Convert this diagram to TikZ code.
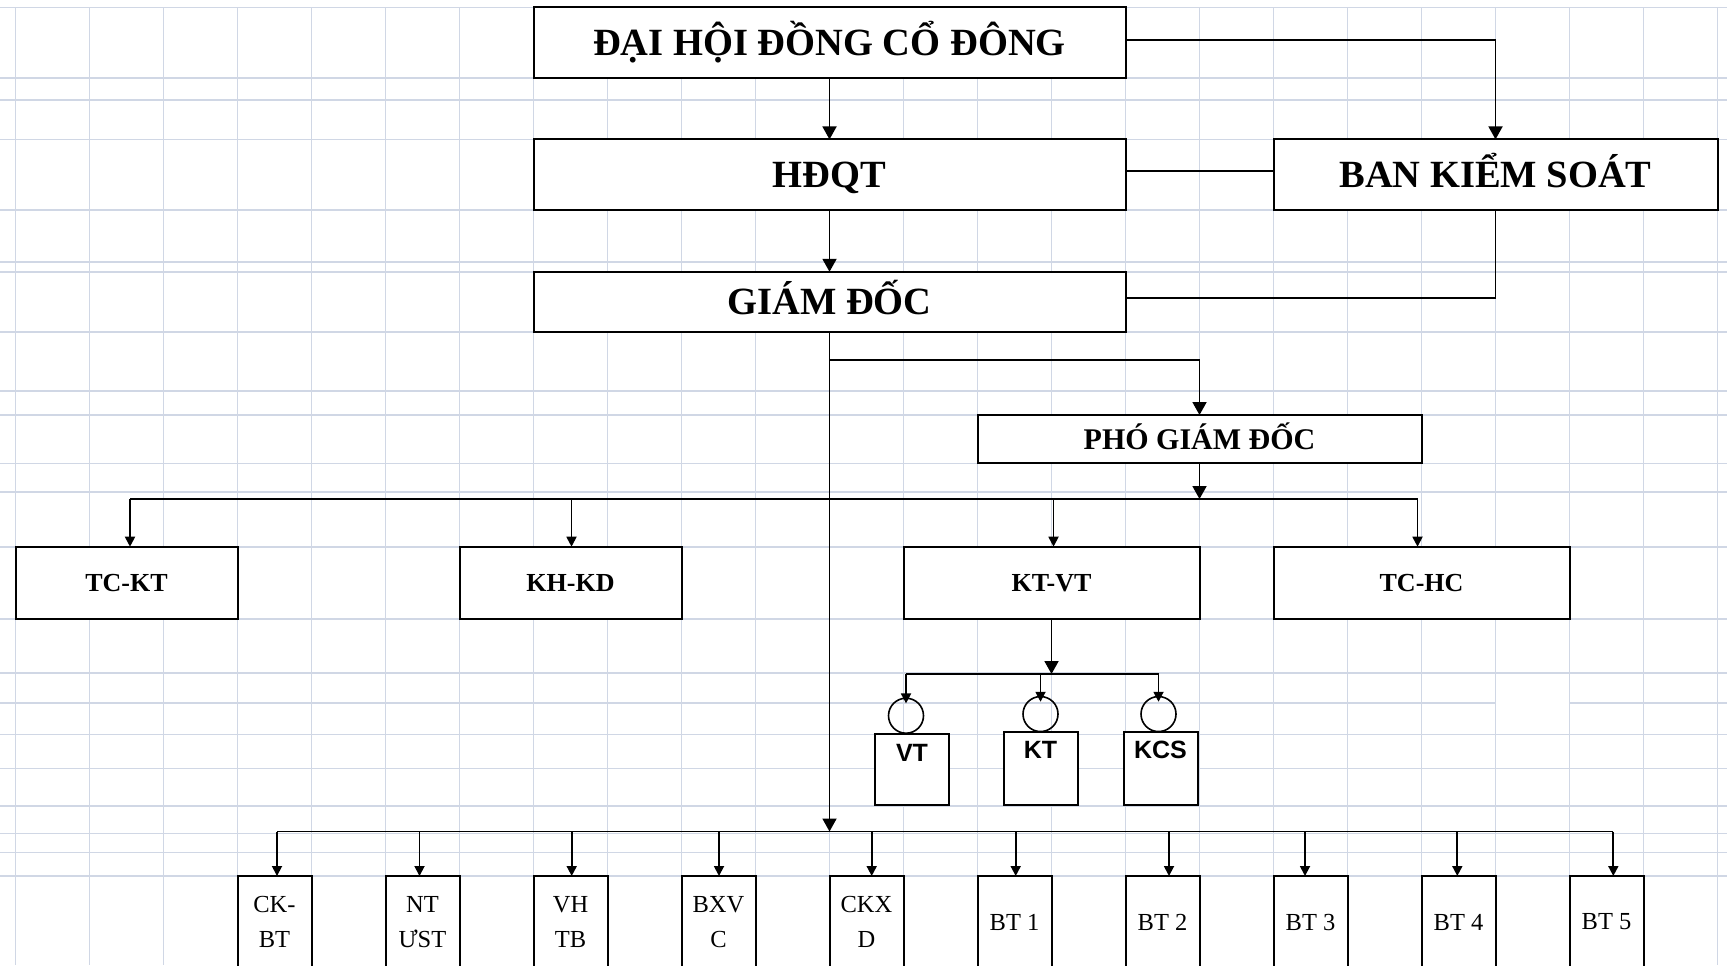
\documentclass[tikz,border=0pt]{standalone}
\usepackage{fontspec}
\setmainfont{Liberation Serif}
\newfontfamily\arialfont{Liberation Sans}
\usepackage{tikz}
\usetikzlibrary{positioning,arrows.meta,calc}
\definecolor{sheetgrid}{RGB}{208,215,229}
\tikzset{
  >={Triangle[length=6.5pt,width=7pt]},
  gridline/.style={draw=sheetgrid,line width=0.8pt},
  box/.style={draw,line width=1pt,fill=white,inner sep=0pt,outer sep=0pt,text depth=0pt},
  topbox/.style={box,minimum width=296pt,minimum height=35.2pt,
    font=\fontsize{19.25pt}{23pt}\selectfont\bfseries,text height=12.75pt},
  vicebox/.style={box,minimum width=222pt,minimum height=24.15pt,
    font=\fontsize{15pt}{18pt}\selectfont\bfseries,text height=9.9pt},
  deptbox/.style={box,minimum height=36.15pt,
    font=\fontsize{13pt}{16pt}\selectfont\bfseries,text height=8.6pt},
  subbox/.style={box,minimum width=37pt,minimum height=36.35pt},
  subtext/.style={inner sep=0pt,text height=8.95pt,text depth=0pt,
    font=\arialfont\fontsize{12.5pt}{15pt}\selectfont\bfseries},
  ring/.style={circle,draw,line width=0.8pt,minimum size=17.5pt,inner sep=0pt},
  unitbox/.style={draw,line width=1pt,fill=white,inner sep=0pt,outer sep=0pt,anchor=north,
    minimum width=37pt,minimum height=46pt,align=center,
    font=\fontsize{12.25pt}{17.75pt}\selectfont},
  link/.style={line width=0.9pt},
  drop/.style={link,-{Triangle[length=5pt,width=5pt]}},
}
\begin{document}
\begin{tikzpicture}[x=0.5pt,y=-0.5pt]
\useasboundingbox (0,0) rectangle (1727,965);
\clip (0,0) rectangle (1727,965);
\fill[white] (0,0) rectangle (1727,965);

\foreach \gx in {0,...,23}
  \draw[gridline] (15.5+74*\gx,7.5) -- (15.5+74*\gx,965);
\foreach \gy in {7.5,77.7,100,139.3,210,261.7,271.7,331.7,391,415,463.3,491.7,
  546.7,619,672.7,734.3,768.3,805.7,833.3,852.5,876}
  \draw[gridline] (0,\gy) -- (1727,\gy);
\draw[gridline] (0,702.7) -- (1495.5,702.7) (1569.5,702.7) -- (1727,702.7);

\node[topbox] (dhdc) at (829.5,42.6) {ĐẠI HỘI ĐỒNG CỔ ĐÔNG};
\node[topbox,below=30.8pt of dhdc] (hdqt) {HĐQT};
\node[topbox,minimum height=30pt,below=31pt of hdqt] (gd) {GIÁM ĐỐC};
\node[topbox,minimum width=222pt,right=74pt of hdqt] (bks) {BAN KIỂM SOÁT};
\node[vicebox] (pgd) at (1199.5,439.15) {PHÓ GIÁM ĐỐC};

\node[deptbox,minimum width=111pt] (tckt) at (126.5,582.85) {TC-KT};
\node[deptbox,minimum width=111pt,right=111pt of tckt] (khkd) {KH-KD};
\node[deptbox,minimum width=148pt,right=111pt of khkd] (ktvt) {KT-VT};
\node[deptbox,minimum width=148pt,right=37pt of ktvt] (tchc) {TC-HC};

\node[subbox,minimum height=35.5pt] (vt) at (912,769.5) {};
\node[subbox] (kt) at (1040.5,768.7) {};
\node[subbox] (kcs) at (1160.5,768.7) {};
\node[subtext] (vtlab) at ([yshift=-9.5pt]vt.north) {VT};
\node[subtext] (ktlab) at ([yshift=-8.5pt]kt.north) {KT};
\node[subtext] (kcslab) at ([yshift=-8.5pt]kcs.north) {KCS};
\node[ring,above=0pt of vt.north,xshift=-3pt] (cvt) {};
\node[ring,above=0pt of kt.north] (ckt) {};
\node[ring,above=0pt of kcs.north,xshift=-1pt] (ckcs) {};

\coordinate (bus) at (829.5,831.5);
\coordinate (mbus) at (1199.5,499);
\coordinate (sbus) at (1051.5,674);

\path[link,->] (dhdc) edge (hdqt) (hdqt) edge (gd);
\draw[link,->] ([yshift=1.5pt]dhdc.east) -| (bks.north);
\draw[link] ([yshift=1.8pt]hdqt.east) -- ([yshift=1.8pt]bks.west);
\draw[link] (bks.south) |- ([yshift=2pt]gd.east);
\draw[link,->] (gd.south) -- (bus);
\draw[link,->] ($(gd.south)+(0,28)$) -| (pgd.north);
\draw[link,->] (pgd.south) -- (mbus);

\draw[link] ([xshift=1.75pt]tckt.north |- mbus) -- ([xshift=-2pt]tchc.north |- mbus);
\foreach \d/\dx in {tckt/1.75pt,khkd/0.5pt,ktvt/1pt,tchc/-2pt}
  \draw[drop] ([xshift=\dx]\d.north |- mbus) -- ([xshift=\dx]\d.north);

\draw[link,->] (ktvt.south) -- (sbus);
\draw[link] (cvt.north |- sbus) -- (ckcs.north |- sbus);
\foreach \c in {cvt,ckt,ckcs}
  \draw[drop,shorten >=-3pt] (\c.north |- sbus) -- (\c.north);

\foreach \lab/\dx [count=\i] in {{CK-\\BT}/1.25pt,{NT\\ƯST}/-1.5pt,{VH\\TB}/0.6pt,
  {BXV\\C}/0.25pt,{CKX\\D}/2.6pt,{BT 1}/0.6pt,{BT 2}/3.25pt,{BT 3}/-2.75pt,
  {BT 4}/-0.6pt,{BT 5}/3.4pt}{
  \node[unitbox] (u\i) at (274.5+148*\i-148,876) {\lab};
  \draw[drop] ([xshift=\dx]u\i.north |- bus) -- ([xshift=\dx]u\i.north);
}
\draw[link] ([xshift=1.25pt]u1.north |- bus) -- ([xshift=3.4pt]u10.north |- bus);
\end{tikzpicture}
\end{document}
